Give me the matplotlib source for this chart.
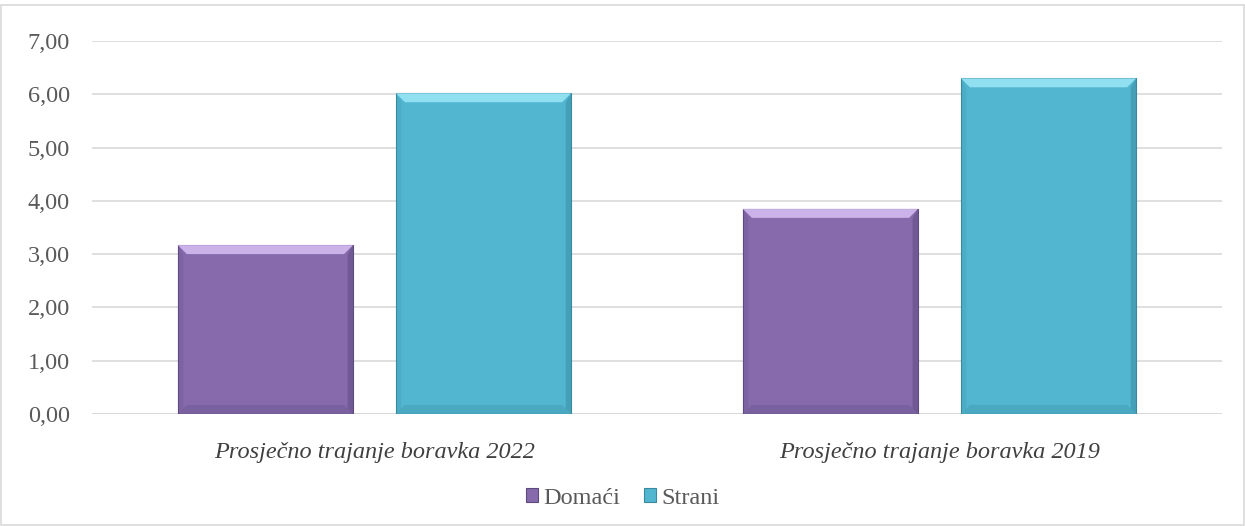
import matplotlib
matplotlib.use("Agg")
import matplotlib.pyplot as plt
from matplotlib.patches import Rectangle, Polygon
import numpy as np

categories = ["Prosječno trajanje boravka 2022", "Prosječno trajanje boravka 2019"]
series_names = ["Domaći", "Strani"]
domaci = [3.17, 3.85]
strani = [6.02, 6.30]
yticks = [0, 1, 2, 3, 4, 5, 6, 7]

colors = ["#866AAB", "#52B6D0"]
light = ["#D8C0F5", "#9DE8F8"]
dark = ["#5E4A80", "#3A8A9E"]

plt.rcParams['font.family'] = ['Liberation Serif', 'DejaVu Serif']

fig = plt.figure(figsize=(12.45, 5.26), dpi=100)
ax = fig.add_axes([92/1245, 1-414/526, 1130/1245, 373/526])

x = np.arange(len(categories))
w = 0.31
off = 0.193
bars = []
for i, (vals, c) in enumerate(zip([domaci, strani], colors)):
    b = ax.bar(x + (-off if i == 0 else off), vals, w, color=c, edgecolor=dark[i],
               linewidth=0.8, zorder=3, label=series_names[i])
    bars.append(b)

ax.set_xlim(-0.5, 1.5)
ax.set_ylim(0, 7)

# bevel effect
for i, b in enumerate(bars):
    for r in b:
        x0, y0 = r.get_x(), r.get_y()
        x1, y1 = x0 + r.get_width(), y0 + r.get_height()
        inv = ax.transData.inverted()
        px0 = ax.transData.transform((x0, y0))
        d = inv.transform(px0 + np.array([9, 9])) - np.array([x0, y0])
        dx, dy = d
        top = Polygon([(x0, y1), (x1, y1), (x1 - dx, y1 - dy), (x0 + dx, y1 - dy)],
                      closed=True, facecolor=light[i], edgecolor='none', zorder=4, alpha=0.85)
        right = Polygon([(x1, y1), (x1, y0), (x1 - dx * 0.6, y0 + dy * 0.6), (x1 - dx * 0.6, y1 - dy)],
                        closed=True, facecolor=dark[i], edgecolor='none', zorder=4, alpha=0.5)
        left = Polygon([(x0, y1), (x0, y0), (x0 + dx * 0.6, y0 + dy * 0.6), (x0 + dx * 0.6, y1 - dy)],
                       closed=True, facecolor=dark[i], edgecolor='none', zorder=4, alpha=0.2)
        bot = Polygon([(x0, y0), (x1, y0), (x1 - dx, y0 + dy), (x0 + dx, y0 + dy)],
                      closed=True, facecolor=dark[i], edgecolor='none', zorder=4, alpha=0.3)
        for p in (top, right, left, bot):
            ax.add_patch(p)

ax.set_yticks(yticks)
ax.set_yticklabels([f"{v:.2f}".replace(".", ",") for v in yticks], fontsize=17.5, color="#595959")
ax.set_xticks(x)
ax.set_xticklabels(categories, fontsize=17.5, color="#404040", style="italic")
ax.tick_params(axis='both', length=0)
ax.tick_params(axis='y', pad=16)
ax.tick_params(axis='x', pad=20)
ax.grid(axis='y', color="#D9D9D9", linewidth=1.2, zorder=0)
for s in ax.spines.values():
    s.set_visible(False)
ax.axhline(0, color="#D9D9D9", linewidth=1.2, zorder=2)

leg = fig.legend(handles=[bars[0], bars[1]], labels=series_names, loc='center',
                 bbox_to_anchor=(0.5, 1 - 498/526), ncol=2, frameon=False,
                 fontsize=17.5, handlelength=0.5, handleheight=0.5, handletextpad=0.2,
                 columnspacing=1.0)
for t in leg.get_texts():
    t.set_color("#595959")

fig.patches.append(Rectangle((1/1245, 1/526), 1243/1245, 520/526, transform=fig.transFigure,
                             fill=False, edgecolor="#D9D9D9", linewidth=1.2))

fig.savefig("out.png", dpi=100, facecolor="white")
